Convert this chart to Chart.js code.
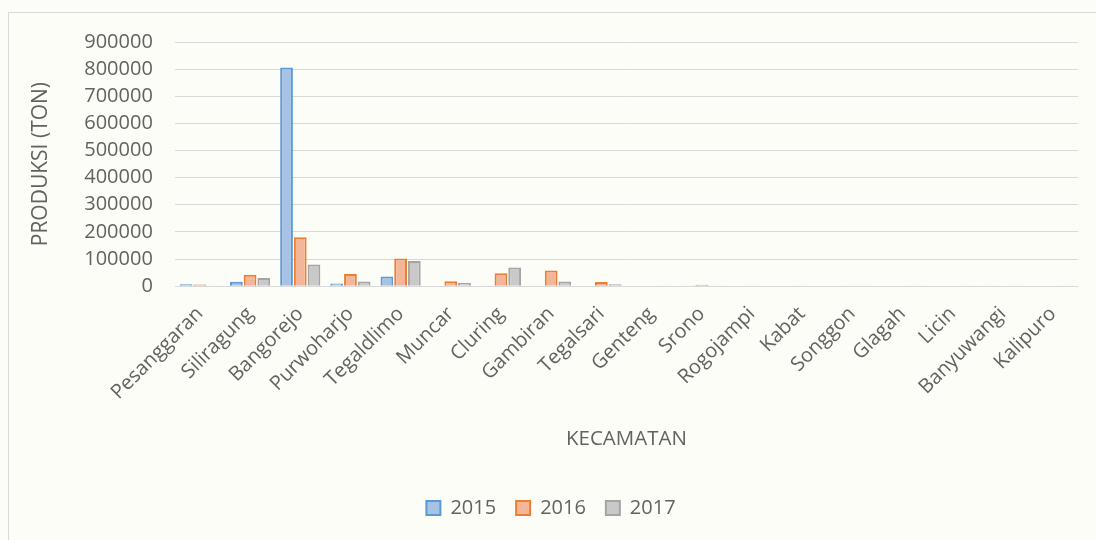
<!DOCTYPE html>
<html>
<head>
<meta charset="utf-8">
<script src="https://cdn.jsdelivr.net/npm/chart.js@4.4.1/dist/chart.umd.min.js"></script>
<style>
  html, body { margin: 0; padding: 0; background: #fcfdf6; overflow: hidden; }
  #kotak {
    position: absolute; left: 8px; top: 12px; width: 1100px; height: 540px;
    border: 1px solid #d9d9d9; background: #fcfdf6;
  }
  #grafik { position: absolute; left: 0; top: 0; }
</style>
</head>
<body>
<div id="kotak"><canvas id="grafik" width="1087" height="527"></canvas></div>
<script>
const kecamatan = ["Pesanggaran", "Siliragung", "Bangorejo", "Purwoharjo", "Tegaldlimo", "Muncar",
  "Cluring", "Gambiran", "Tegalsari", "Genteng", "Srono", "Rogojampi", "Kabat", "Songgon",
  "Glagah", "Licin", "Banyuwangi", "Kalipuro"]
const tahun = ["2015", "2016", "2017"]
const produksi2015 = [7000, 16000, 806000, 10000, 36000, 0, 2500, 2500, 0, 0, 2500, 0, 0, 0, 0, 0, 2500, 0]
const produksi2016 = [6000, 42000, 180000, 45000, 102000, 18000, 48000, 58000, 15000, 0, 5000, 2500, 2500, 2500, 0, 0, 0, 0]
const produksi2017 = [2500, 30000, 80000, 17000, 93000, 12000, 69000, 17000, 7000, 2500, 2500, 0, 0, 2500, 2500, 2500, 2500, 2500]
const langkahY = 100000
const maksY = 900000

const abu = "#626262"
const huruf = "'Open Sans', sans-serif"

const grafik = document.getElementById("grafik")

new Chart(grafik, {
  type: "bar",
  data: {
    labels: kecamatan,
    datasets: [
      { label: tahun[0], data: produksi2015, backgroundColor: "#a6c3e6", borderColor: "#5b9bd5", borderWidth: 2 },
      { label: tahun[1], data: produksi2016, backgroundColor: "#f4b699", borderColor: "#ed7d31", borderWidth: 2 },
      { label: tahun[2], data: produksi2017, backgroundColor: "#c9c9c9", borderColor: "#a5a5a5", borderWidth: 2 },
    ],
  },
  options: {
    responsive: false,
    animation: false,
    layout: { padding: { top: 29, right: 18, left: 15, bottom: 12 } },
    datasets: { bar: { barPercentage: 0.93, categoryPercentage: 0.82 } },
    plugins: {
      tooltip: { enabled: false },
      legend: {
        position: "bottom",
        labels: {
          boxWidth: 14, boxHeight: 14, padding: 20,
          color: abu, font: { family: huruf, size: 20 },
        },
      },
    },
    scales: {
      x: {
        grid: { display: false },
        border: { display: false },
        ticks: {
          color: abu, font: { family: huruf, size: 20 },
          maxRotation: 45, minRotation: 45, autoSkip: false, padding: 8,
        },
        title: {
          display: true, text: "KECAMATAN", color: abu,
          font: { family: huruf, size: 20.5 }, padding: { top: 14, bottom: 27 },
        },
      },
      y: {
        min: 0,
        max: maksY,
        grid: { color: "#d9d9d9", lineWidth: 1, drawTicks: true, tickLength: 18, tickColor: "rgba(0,0,0,0)" },
        border: { display: false },
        ticks: {
          stepSize: langkahY, autoSkip: false,
          color: abu, font: { family: huruf, size: 20 }, padding: 4,
          callback: (nilai) => String(nilai),
        },
        title: {
          display: true, text: "PRODUKSI (TON)", color: abu,
          font: { family: huruf, size: 21 }, padding: { bottom: 27 },
        },
      },
    },
  },
})
</script>
</body>
</html>
